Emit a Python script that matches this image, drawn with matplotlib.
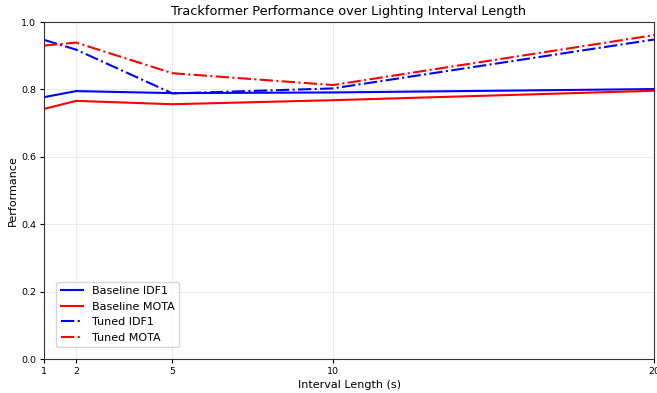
import matplotlib
matplotlib.use("Agg")
import matplotlib.pyplot as plt

intervals = [1, 2, 5, 10, 20]
baseline_idf1 = [0.777, 0.795, 0.789, 0.791, 0.801]
baseline_mota = [0.742, 0.766, 0.756, 0.768, 0.796]
tuned_idf1 = [0.947, 0.918, 0.788, 0.803, 0.948]
tuned_mota = [0.930, 0.939, 0.848, 0.813, 0.961]
xticks = [1, 2, 5, 10, 20]

fig = plt.figure(figsize=(6.57, 3.93), dpi=100)
ax = fig.add_axes([0.067, 0.0865, 0.9285, 0.8575])

ax.plot(intervals, baseline_idf1, color="blue", linestyle="-", linewidth=1.5, label="Baseline IDF1")
ax.plot(intervals, baseline_mota, color="red", linestyle="-", linewidth=1.5, label="Baseline MOTA")
ax.plot(intervals, tuned_idf1, color="blue", linestyle="-.", linewidth=1.5, label="Tuned IDF1")
ax.plot(intervals, tuned_mota, color="red", linestyle="-.", linewidth=1.5, label="Tuned MOTA")

ax.set_xlim(1, 20)
ax.set_ylim(0, 1.0)
ax.set_xticks(xticks)
ax.set_xticklabels([str(t) for t in xticks])
ax.set_yticks([0.0, 0.2, 0.4, 0.6, 0.8, 1.0])
ax.tick_params(labelsize=6.8, length=3, pad=2.5)
for s in ax.spines.values():
    s.set_color("#333333")
ax.grid(True, color="#dddddd", alpha=0.6, linewidth=0.7)
ax.set_xlabel("Interval Length (s)", fontsize=8, labelpad=3)
ax.set_ylabel("Performance", fontsize=8, labelpad=2.5)
ax.set_title("Trackformer Performance over Lighting Interval Length", fontsize=9.3, pad=5)
ax.legend(loc="lower left", fontsize=8, bbox_to_anchor=(0.011, 0.018))

fig.savefig("out.png", dpi=100)
